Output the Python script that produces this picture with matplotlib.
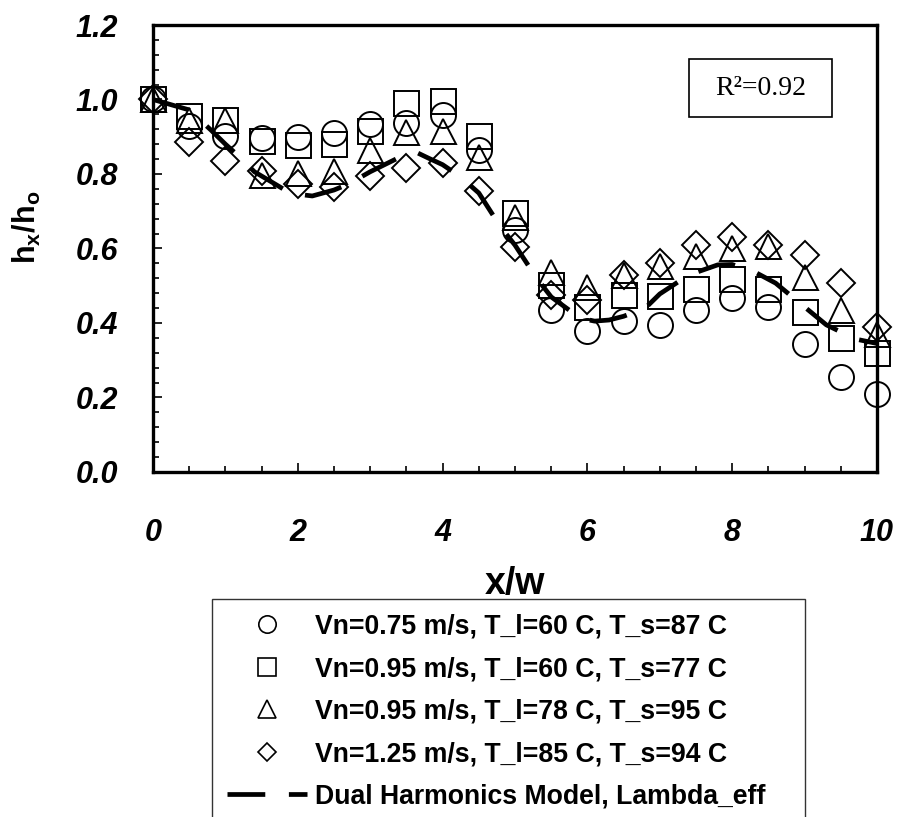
import matplotlib
matplotlib.use("Agg")
import matplotlib.pyplot as plt
from matplotlib.ticker import MultipleLocator, FormatStrFormatter
from matplotlib.patches import Rectangle
from matplotlib.lines import Line2D

plt.rcParams['font.family'] = 'Liberation Sans'
plt.rcParams['mathtext.fontset'] = 'custom'
plt.rcParams['mathtext.rm'] = 'Liberation Sans:bold'
plt.rcParams['mathtext.it'] = 'Liberation Sans:bold'
plt.rcParams['mathtext.bf'] = 'Liberation Sans:bold'

# measured points, x/w = 0, 0.5, ..., 10
x_pts = [0, 0.5, 1, 1.5, 2, 2.5, 3, 3.5, 4, 4.5, 5, 5.5, 6, 6.5, 7, 7.5, 8, 8.5, 9, 9.5, 10]
circle_y = [1.0, 0.929, 0.902, 0.897, 0.899, 0.909, 0.934, 0.936, 0.958, 0.864, 0.65,
            0.435, 0.379, 0.405, 0.395, 0.435, 0.467, 0.444, 0.344, 0.256, 0.209]
square_y = [1.0, 0.956, 0.945, 0.889, 0.879, 0.88, 0.915, 0.991, 0.996, 0.903, 0.695,
            0.502, 0.444, 0.474, 0.472, 0.492, 0.518, 0.491, 0.43, 0.36, 0.319]
triangle_y = [1.0, 0.945, 0.944, 0.796, 0.804, 0.807, 0.864, 0.913, 0.916, 0.846, 0.685,
              0.538, 0.497, 0.529, 0.552, 0.581, 0.60, 0.607, 0.524, 0.436, 0.37]
diamond_y = [1.0, 0.887, 0.836, 0.809, 0.773, 0.766, 0.795, 0.815, 0.83, 0.754, 0.605,
             0.475, 0.462, 0.529, 0.561, 0.609, 0.632, 0.609, 0.583, 0.508, 0.39]

# model curve
model_x = [0, 0.5, 0.8, 1.0, 1.2, 1.4, 1.6, 1.9, 2.2, 2.5, 2.7, 3.0, 3.25, 3.5, 3.65, 3.8,
           4.0, 4.25, 4.5, 4.8, 5.0, 5.3, 5.5, 5.9, 6.1, 6.3, 6.5, 6.8, 7.0, 7.4, 7.8, 8.0,
           8.3, 8.6, 9.0, 9.3, 9.7, 10]
model_y = [1.0, 0.972, 0.918, 0.88, 0.845, 0.806, 0.783, 0.748, 0.741, 0.757, 0.773, 0.806,
           0.83, 0.854, 0.857, 0.843, 0.825, 0.792, 0.749, 0.658, 0.609, 0.52, 0.47, 0.413,
           0.405, 0.408, 0.418, 0.44, 0.478, 0.529, 0.556, 0.557, 0.538, 0.507, 0.443,
           0.395, 0.357, 0.345]

labels = ["Vn=0.75 m/s, T_l=60 C, T_s=87 C",
          "Vn=0.95 m/s, T_l=60 C, T_s=77 C",
          "Vn=0.95 m/s, T_l=78 C, T_s=95 C",
          "Vn=1.25 m/s, T_l=85 C, T_s=94 C",
          "Dual Harmonics Model, Lambda_eff"]

fig = plt.figure(figsize=(8.98, 8.17), dpi=100)
ax = fig.add_axes([0.1704, 0.4223, 0.8062, 0.5471])

# 'D' is drawn larger than the other markers at equal size, so scale it down
series = [(circle_y, 'o', 18, 12.5), (square_y, 's', 18, 12.5),
          (triangle_y, '^', 18, 12.5), (diamond_y, 'D', 14, 9.5)]
handles = []
for (yv, mk, ms, lms), lab in zip(series, labels[:4]):
    ax.plot(x_pts, yv, linestyle='none', marker=mk, markersize=ms,
            markerfacecolor='none', markeredgecolor='black',
            markeredgewidth=1.4, clip_on=False)
    handles.append(Line2D([], [], linestyle='none', marker=mk, markersize=lms,
                          markerfacecolor='none', markeredgecolor='black',
                          markeredgewidth=1.2, label=lab))

ml, = ax.plot(model_x, model_y, color='black', linewidth=3.4,
              dashes=(8, 5), dash_capstyle='butt', clip_on=False, label=labels[4])
handles.append(ml)

ax.set_xlim(0, 10)
ax.set_ylim(0, 1.2)
ax.xaxis.set_major_locator(MultipleLocator(2))
ax.xaxis.set_minor_locator(MultipleLocator(0.5))
ax.yaxis.set_major_locator(MultipleLocator(0.2))
ax.yaxis.set_minor_locator(MultipleLocator(0.04))
ax.yaxis.set_major_formatter(FormatStrFormatter('%.1f'))
ax.tick_params(which='both', direction='in', top=False, right=False, width=1.2)
ax.tick_params(which='major', length=6.5)
ax.tick_params(which='minor', length=4.5)
ax.tick_params(axis='x', pad=33)
ax.tick_params(axis='y', pad=25)
for t in ax.get_xticklabels() + ax.get_yticklabels():
    t.set_fontsize(22)
    t.set_fontweight('bold')
    t.set_fontstyle('italic')
for sp in ax.spines.values():
    sp.set_linewidth(2.4)

ax.set_xlabel('x/w', fontsize=27, fontweight='bold')
ax.xaxis.set_label_coords(0.5, -0.21)
ax.set_ylabel(r'h$_\mathrm{x}$/h$_\mathrm{o}$', fontsize=22, fontweight='bold')
ax.yaxis.set_label_coords(-0.152, 0.548)

# R^2 box
ax.add_patch(Rectangle((0.740, 0.7935), 0.198, 0.1295, transform=ax.transAxes,
                       fill=False, edgecolor='black', linewidth=1.2))
ax.text(0.839, 0.858, 'R²=0.92', transform=ax.transAxes, ha='center', va='center',
        fontsize=20, family='Liberation Serif')

leg = fig.legend(handles=handles, loc='upper left', bbox_to_anchor=(0.236, 0.0, 0.660, 0.267),
                 mode='expand', prop={'weight': 'bold', 'size': 19.2},
                 handlelength=3.0, handletextpad=0.3, labelspacing=0.62,
                 borderpad=0.55, borderaxespad=0, fancybox=False, framealpha=1)
leg.get_frame().set_edgecolor('#333333')
leg.get_frame().set_linewidth(1.0)

fig.savefig('out.png', dpi=100)
